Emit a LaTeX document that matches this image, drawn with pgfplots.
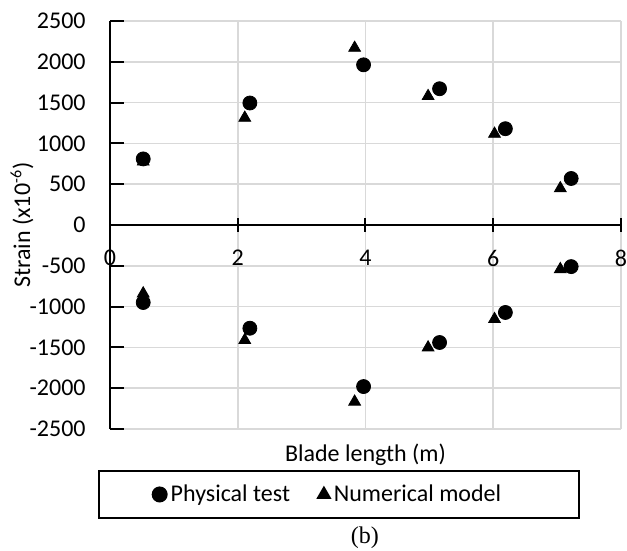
\documentclass[border=0pt]{standalone}
\usepackage{fontspec}
\setmainfont{Carlito}
\newfontfamily\captionfont{Liberation Serif}
\usepackage{pgfplots}
\pgfplotsset{compat=1.18}
\definecolor{gridgray}{RGB}{217,217,217}
\newcommand{\chartfont}{\fontsize{12}{14}\selectfont}
\begin{document}
\chartfont
\begin{tikzpicture}
\path[use as bounding box] (0,0) rectangle (313.5pt,275.5pt);
\begin{axis}[
  at={(55pt,61pt)}, anchor=south west,
  scale only axis, width=255.5pt, height=204pt,
  xmin=0, xmax=8, ymin=-2500, ymax=2500,
  xtick={0,2,4,6,8}, ytick={-2500,-2000,...,2500},
  axis x line=middle, axis y line*=left,
  hide obscured x ticks=false, hide obscured y ticks=false,
  axis line style={-, line width=1pt, black},
  grid=major, major grid style={gridgray, line width=0.8pt},
  xtick align=center, ytick align=inside,
  major tick length=7pt,
  x tick style={black, line width=1pt},
  y tick style={black, line width=1pt},
  /pgf/number format/assume math mode=true,
  /pgf/number format/1000 sep={},
  scaled ticks=false,
  tick label style={font=\chartfont},
  xticklabel style={yshift=-5pt},
  yticklabel={\pgfmathprintnumber{\tick}\hspace*{8pt}},
  xlabel={Blade length (m)},
  ylabel={Strain (x10\textsuperscript{-6})},
  every axis x label/.style={at={(axis description cs:0.5,-0.0637)}, anchor=center, font=\chartfont},
  every axis y label/.style={at={(axis description cs:-0.172,0.5)}, anchor=center, rotate=90, font=\chartfont},
  legend style={at={(axis description cs:0.448,-0.1605)}, anchor=center, font=\chartfont,
    draw=black, line width=1pt, legend columns=2, inner xsep=27pt, inner ysep=4.5pt,
    /tikz/every even column/.append style={column sep=12pt}},
  clip=false,
]
\addplot[only marks, mark=*, mark size=3.5pt, black] coordinates {
  (0.52,810) (2.19,1495) (3.97,1963) (5.16,1670) (6.19,1180) (7.22,570)
  (0.52,-950) (2.19,-1265) (3.97,-1980) (5.16,-1440) (6.19,-1072) (7.22,-510)
};
\addlegendentry{Physical test}
\addplot[only marks, mark=triangle*, mark size=3.4pt, black] coordinates {
  (0.52,776) (2.11,1313) (3.83,2170) (4.98,1579) (6.02,1117) (7.05,449)
  (0.52,-840) (2.11,-1411) (3.83,-2166) (4.98,-1502) (6.02,-1154) (7.05,-542)
};
\addlegendentry{Numerical model\hspace*{10pt}}
\node[font=\captionfont\chartfont, anchor=center] at (axis description cs:0.499,-0.267) {(b)};
\end{axis}
\end{tikzpicture}
\end{document}
